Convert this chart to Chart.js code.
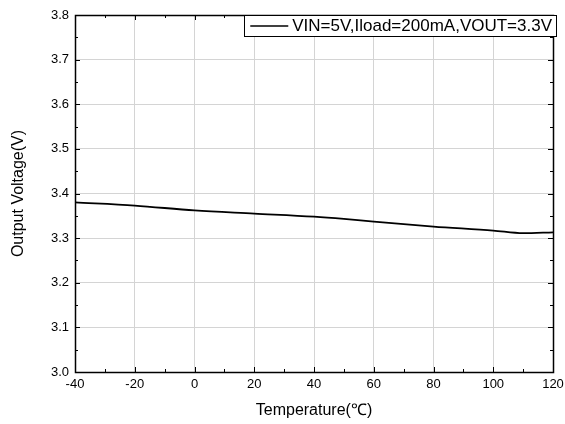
<!DOCTYPE html>
<html>
<head>
<meta charset="utf-8">
<script src="https://cdn.jsdelivr.net/npm/chart.js@4/dist/chart.umd.min.js"></script>
<style>
html,body{margin:0;padding:0;background:#fff;}
#wrap{width:565px;height:424px;}
</style>
</head>
<body>
<div id="wrap"><canvas id="c" width="565" height="424"></canvas></div>
<script>
const temperatures = [-40, -20, 0, 20, 40, 50, 60, 80, 100, 110, 120];
const outputVoltage = [3.380, 3.373, 3.362, 3.355, 3.348, 3.343, 3.337, 3.326, 3.317, 3.311, 3.313];
const seriesLabel = "VIN=5V,Iload=200mA,VOUT=3.3V";
const xTitle = "Temperature(\u2103)";
const yTitle = "Output Voltage(V)";

const FONT = "'Liberation Sans', Arial, sans-serif";

const frameTicks = {
  id: 'frameTicks',
  afterDatasetsDraw(chart) {
    const {ctx, chartArea: a, scales: {x, y}} = chart;
    ctx.save();
    ctx.strokeStyle = '#000';
    ctx.lineWidth = 1;
    ctx.beginPath();
    for (let v = -40; v <= 120; v += 10) {
      const px = Math.round(x.getPixelForValue(v)) + 0.5;
      const len = (v % 20 === 0) ? 5 : 3;
      ctx.moveTo(px, a.bottom); ctx.lineTo(px, a.bottom - len);
      ctx.moveTo(px, a.top); ctx.lineTo(px, a.top + len);
    }
    for (let i = 0; i <= 16; i++) {
      const v = 3.0 + i * 0.05;
      const py = Math.round(y.getPixelForValue(v)) + 0.5;
      const len = (i % 2 === 0) ? 5 : 3;
      ctx.moveTo(a.left, py); ctx.lineTo(a.left + len, py);
      ctx.moveTo(a.right, py); ctx.lineTo(a.right - len, py);
    }
    ctx.stroke();
    ctx.lineWidth = 1.5;
    ctx.strokeRect(Math.round(a.left) + 0.5, Math.round(a.top) + 0.5, Math.round(a.right - a.left), Math.round(a.bottom - a.top));
    // legend
    ctx.font = '17px ' + FONT;
    const tw = ctx.measureText(seriesLabel).width;
    const bx1 = a.right + 3, by0 = a.top, bh = 21;
    const bx0 = bx1 - tw - 52;
    ctx.fillStyle = '#fff';
    ctx.fillRect(bx0, by0, bx1 - bx0, bh);
    ctx.lineWidth = 1;
    ctx.strokeRect(Math.round(bx0) + 0.5, Math.round(by0) + 0.5, Math.round(bx1 - bx0), bh);
    ctx.lineWidth = 1.5;
    ctx.beginPath();
    ctx.moveTo(bx0 + 6, by0 + bh / 2 + 0.5); ctx.lineTo(bx0 + 44, by0 + bh / 2 + 0.5);
    ctx.stroke();
    ctx.fillStyle = '#000';
    ctx.textBaseline = 'middle';
    ctx.fillText(seriesLabel, bx0 + 48, by0 + bh / 2 + 1);
    ctx.restore();
  }
};

new Chart(document.getElementById('c'), {
  type: 'line',
  data: {
    datasets: [{
      label: seriesLabel,
      data: temperatures.map((t, i) => ({x: t, y: outputVoltage[i]})),
      borderColor: '#000',
      borderWidth: 1.8,
      pointRadius: 0,
      cubicInterpolationMode: 'monotone',
      fill: false
    }]
  },
  options: {
    responsive: false,
    animation: false,
    devicePixelRatio: 1,
    layout: {padding: {top: 15, right: 12, left: 0, bottom: 0}},
    plugins: {legend: {display: false}, tooltip: {enabled: false}},
    scales: {
      x: {
        type: 'linear', min: -40, max: 120,
        ticks: {stepSize: 20, color: '#000', font: {family: FONT, size: 13}, padding: 5},
        grid: {color: '#d4d4d4', drawTicks: false},
        border: {display: false},
        title: {display: true, text: xTitle, color: '#000', font: {family: FONT, size: 16}, padding: {top: 4, bottom: 4}},
        afterFit(s) { s.height = 52; s.paddingLeft = 0; s.paddingRight = 0; }
      },
      y: {
        type: 'linear', min: 3.0, max: 3.8,
        ticks: {stepSize: 0.1, color: '#000', font: {family: FONT, size: 13}, padding: 6,
          callback: v => Number(v).toFixed(1)},
        grid: {color: '#d4d4d4', drawTicks: false},
        border: {display: false},
        title: {display: true, text: yTitle, color: '#000', font: {family: FONT, size: 16}, padding: {top: 9, bottom: 4}},
        afterFit(s) { s.width = 75; s.paddingTop = 0; s.paddingBottom = 0; }
      }
    }
  },
  plugins: [frameTicks]
});
</script>
</body>
</html>
